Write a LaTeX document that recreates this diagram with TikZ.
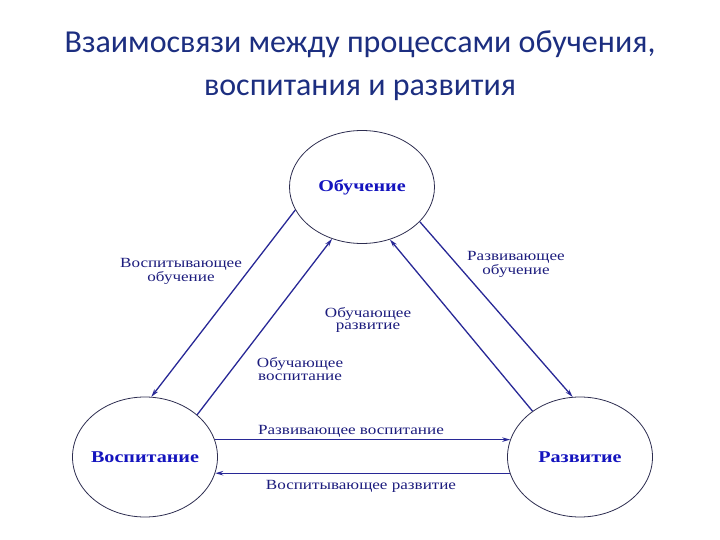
\documentclass[tikz,border=0pt]{standalone}
\usepackage{fontspec}
\setmainfont{Liberation Serif}[FakeStretch=1.22]
\newfontfamily\titlefont{Carlito}
\usetikzlibrary{positioning, shapes.geometric, arrows.meta}
\definecolor{titleblue}{RGB}{28,46,128}
\definecolor{lineblue}{RGB}{40,40,150}
\definecolor{textblue}{RGB}{28,28,125}
\definecolor{boldblue}{RGB}{20,20,190}
\definecolor{rimgray}{RGB}{45,45,80}

\begin{document}
\begin{tikzpicture}[
    x=1pt, y=-1pt,
    proc/.style={
        draw=rimgray,
        ellipse,
        line width=0.8pt,
        minimum width=145pt,
        minimum height=120pt,
        inner sep=0pt
    },
    procname/.style={
        font=\fontsize{16.5}{18}\selectfont\bfseries,
        text=boldblue
    },
    link/.style={
        font=\fontsize{14}{12.5}\selectfont,
        text=textblue,
        align=center
    },
    arrow/.style={
        -{Stealth[length=8pt,width=4.5pt]},
        draw=lineblue,
        line width=1.3pt
    }
]
\useasboundingbox (0,0) rectangle (720,540);

\node[font=\titlefont\fontsize{32}{43}\selectfont, text=titleblue, align=center] (title) at (360,66) {Взаимосвязи между процессами обучения,\\воспитания и развития};

\node[proc, minimum height=113pt, label={[procname]center:Обучение}] (learn) at (362,187) {};
\node[proc, label={[procname]center:Воспитание}] (upbring) at (145,457) {};
\node[proc, label={[procname]center:Развитие}] (growth) at (580,457) {};

\draw[arrow] (learn.199) -- (upbring.84);
\draw[arrow] (upbring.39) -- (learn.240);
\draw[arrow] (learn.329) -- (growth.97);
\draw[arrow] (growth.136) -- (learn.298);
\draw[arrow] (upbring.14) -- (growth.166);
\draw[arrow] (growth.193) -- (upbring.347);

\node[link] (upLearn) at (181,271) {Воспитывающее\\обучение};
\node[link] (growLearn) at (516,264) {Развивающее\\обучение};
\node[link] (learnGrow) at (368,320) {Обучающее\\развитие};
\node[link] (learnUp) at (300,369) {Обучающее\\воспитание};
\node[link] (growUp) at (351,431) {Развивающее воспитание};
\node[link] (upGrow) at (361,486) {Воспитывающее развитие};

\end{tikzpicture}
\end{document}
